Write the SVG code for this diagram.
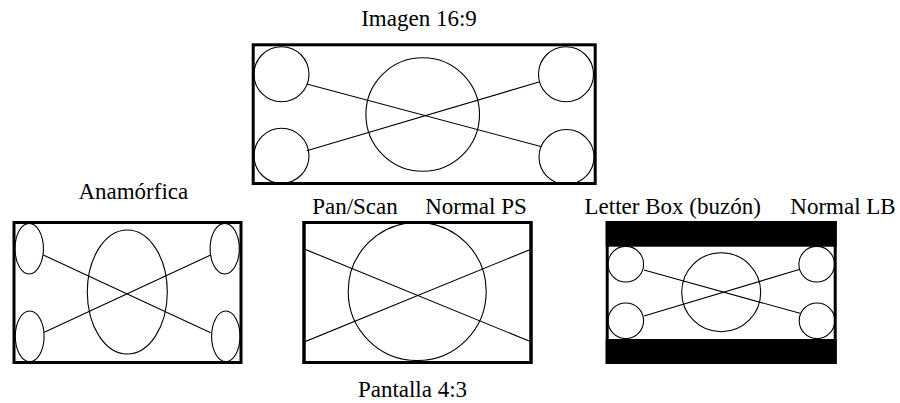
<svg xmlns="http://www.w3.org/2000/svg" width="900" height="403" viewBox="0 0 900 403">
  <style>
    .label { font-family: "Liberation Serif", "DejaVu Serif", "Times New Roman", serif; font-size: 23px; fill: #000; text-anchor: middle; }
    .frame { fill: #fff; stroke: #000; stroke-width: 3; }
    .shape { fill: none; stroke: #000; stroke-width: 1.1; }
    .bar { fill: #000; }
  </style>
  <rect width="900" height="403" fill="#fff"/>

  <!-- 16:9 source picture -->
  <g id="imagen-16-9">
    <rect class="frame" x="253.2" y="44.8" width="342" height="138.7"/>
    <circle class="shape" cx="281.5" cy="74.2" r="27.5"/>
    <circle class="shape" cx="281.5" cy="155.8" r="27.5"/>
    <circle class="shape" cx="566" cy="74.2" r="27.5"/>
    <circle class="shape" cx="566.5" cy="157" r="27.5"/>
    <circle class="shape" cx="422.7" cy="114.5" r="56.8"/>
    <line class="shape" x1="306.7" y1="84" x2="541.7" y2="146.7"/>
    <line class="shape" x1="306.7" y1="150.7" x2="540" y2="81.7"/>
    <text class="label" x="419" y="26">Imagen 16:9</text>
  </g>

  <!-- Anamorphic on a 4:3 screen -->
  <g id="anamorfica">
    <rect class="frame" x="14" y="222.5" width="227" height="140"/>
    <ellipse class="shape" cx="29.2" cy="248.7" rx="14.2" ry="25.3"/>
    <ellipse class="shape" cx="29.7" cy="336.3" rx="14.4" ry="25.3"/>
    <ellipse class="shape" cx="224.7" cy="248.7" rx="14.6" ry="25.3"/>
    <ellipse class="shape" cx="225.8" cy="336.3" rx="14.2" ry="25.3"/>
    <ellipse class="shape" cx="127.3" cy="292" rx="40" ry="62"/>
    <line class="shape" x1="43.3" y1="255" x2="210.7" y2="332.7"/>
    <line class="shape" x1="44.3" y1="332.3" x2="210.7" y2="255"/>
    <text class="label" x="133.3" y="199">Anamórfica</text>
  </g>

  <!-- Pan/Scan on a 4:3 screen -->
  <g id="pan-scan">
    <clipPath id="ps-clip">
      <rect x="305.5" y="224" width="224" height="137"/>
    </clipPath>
    <rect class="frame" x="304" y="222.5" width="227" height="140"/>
    <g clip-path="url(#ps-clip)">
      <circle class="shape" cx="417.2" cy="291.5" r="69"/>
      <line class="shape" x1="305" y1="249.3" x2="530.7" y2="341.7"/>
      <line class="shape" x1="305" y1="341.7" x2="530.7" y2="249.3"/>
    </g>
    <rect x="304" y="222.5" width="227" height="140" fill="none" stroke="#000" stroke-width="3"/>
    <text class="label" x="355" y="213.5">Pan/Scan</text>
    <text class="label" x="476" y="213.5">Normal PS</text>
  </g>

  <!-- Letter box on a 4:3 screen -->
  <g id="letter-box">
    <rect class="frame" x="607.2" y="222.5" width="228" height="140"/>
    <rect class="bar" x="605.7" y="221" width="231" height="25.7"/>
    <rect class="bar" x="605.7" y="339" width="231" height="25"/>
    <circle class="shape" cx="625.8" cy="264.2" r="17.8"/>
    <circle class="shape" cx="625.8" cy="320.8" r="17.8"/>
    <circle class="shape" cx="816.7" cy="264.2" r="17.8"/>
    <circle class="shape" cx="817" cy="320.8" r="17.8"/>
    <circle class="shape" cx="721.2" cy="292.2" r="39.5"/>
    <line class="shape" x1="644" y1="270" x2="800" y2="313.3"/>
    <line class="shape" x1="644" y1="316" x2="800" y2="269.3"/>
    <text class="label" x="672.7" y="213.5">Letter Box (buzón)</text>
    <text class="label" x="843" y="213.5">Normal LB</text>
  </g>

  <text class="label" x="412.5" y="396.7">Pantalla 4:3</text>
</svg>
